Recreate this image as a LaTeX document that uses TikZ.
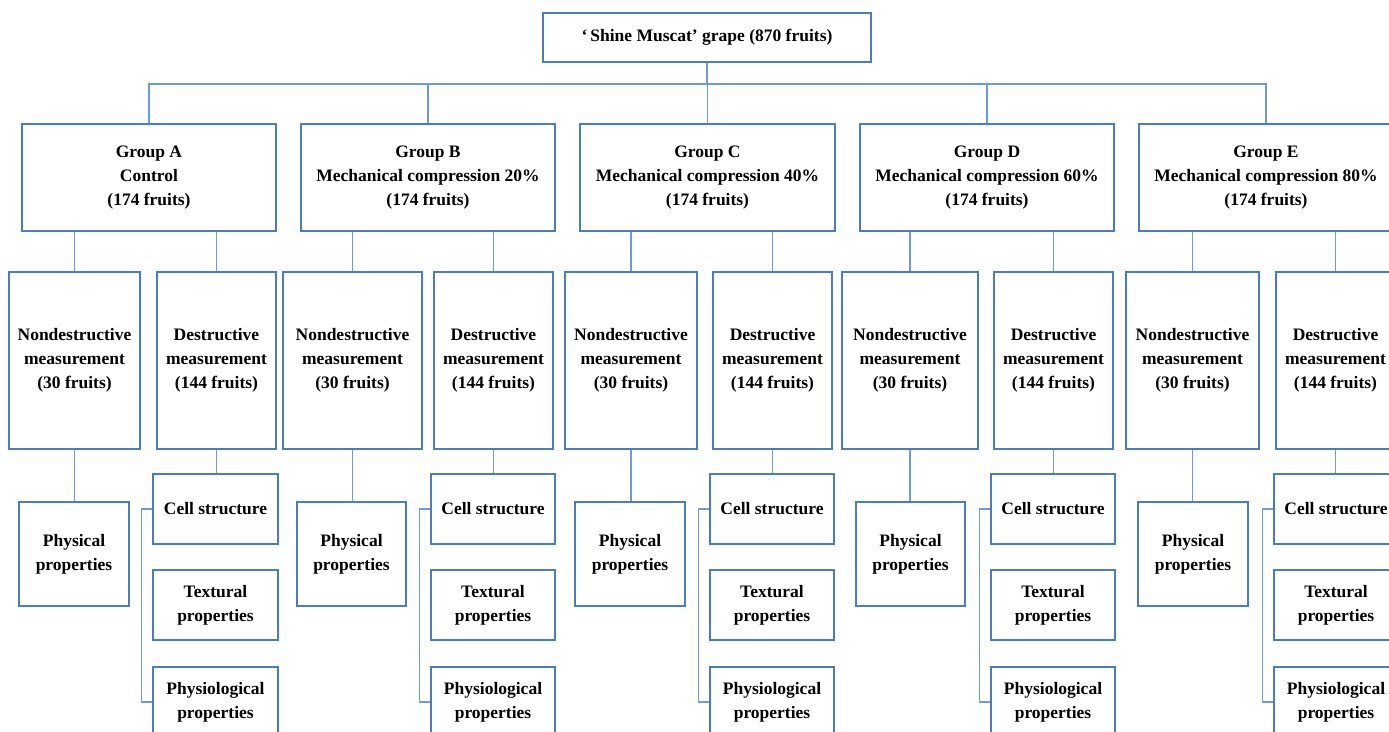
\documentclass[tikz,border=0pt]{standalone}
\usepackage{fontspec}
\setmainfont{Liberation Serif}
\definecolor{boxc}{HTML}{4A7EBB}
\definecolor{linec}{HTML}{6C9BD6}
\begin{document}
\begin{tikzpicture}[x=1pt,y=-1pt,
  box/.style={draw=boxc, line width=1.3pt, inner sep=0pt, align=center,
    font=\fontsize{17.5}{24}\selectfont\bfseries},
  conn/.style={draw=linec, line width=1.3pt}]
\clip (0,0) rectangle (1389,731);
\fill[white] (0,0) rectangle (1389,731);
% top node
\node[box, minimum width=328pt, minimum height=49pt] (top) at (707,37.5)
  {‘\,Shine Muscat’ grape (870 fruits)};
\coordinate (bus) at (707,84);
% groups
\foreach \id/\gla/\glb/\nda/\ndb/\dda/\ddb/\pha/\phb/\cea/\ceb/\txt in {
  A/22/276/9/140/157/276/19/129/153/278/{Group A\\Control\\(174 fruits)},
  B/301/555/283/422/434/553/297/406/431/555/{Group B\\Mechanical compression 20\%\\(174 fruits)},
  C/580/835/565/697/713/832/575/685/710/834/{Group C\\Mechanical compression 40\%\\(174 fruits)},
  D/860/1114/842/978/994/1113/856/965/991/1115/{Group D\\Mechanical compression 60\%\\(174 fruits)},
  E/1139/1393/1126/1259/1276/1395/1138/1248/1274/1398/{Group E\\Mechanical compression 80\%\\(174 fruits)}}
{
  \node[box, minimum width={(\glb-\gla)*1pt}, minimum height=107pt] (g\id) at ({(\gla+\glb)/2},177.5) {\txt};
  \node[box, minimum width={(\ndb-\nda)*1pt}, minimum height=177pt] (nd\id) at ({(\nda+\ndb)/2},360.5)
    {Nondestructive\\measurement\\(30 fruits)};
  \node[box, minimum width={(\ddb-\dda)*1pt}, minimum height=177pt] (d\id) at ({(\dda+\ddb)/2},360.5)
    {Destructive\\measurement\\(144 fruits)};
  \node[box, minimum width={(\phb-\pha)*1pt}, minimum height=104pt] (ph\id) at ({(\pha+\phb)/2},554)
    {Physical\\properties};
  \node[box, minimum width={(\ceb-\cea)*1pt}, minimum height=70pt] (c\id) at ({(\cea+\ceb)/2},509)
    {Cell structure};
  \node[box, minimum width={(\ceb-\cea)*1pt}, minimum height=70pt] (tx\id) at ({(\cea+\ceb)/2},605)
    {Textural\\properties};
  \node[box, minimum width={(\ceb-\cea)*1pt}, minimum height=70pt] (py\id) at ({(\cea+\ceb)/2},702)
    {Physiological\\properties};
  \draw[conn] (g\id.south -| nd\id.north) -- (nd\id.north);
  \draw[conn] (g\id.south -| d\id.north) -- (d\id.north);
  \draw[conn] (nd\id.south) -- (nd\id.south |- ph\id.north);
  \draw[conn] (d\id.south) -- (d\id.south |- c\id.north);
  \draw[conn] (c\id.west) -- ([xshift=-11pt]c\id.west) |- (py\id.west);
}
% top connectors
\draw[conn] (top.south) -- (bus);
\draw[conn] (gA.north) |- (bus) -| (gE.north);
\draw[conn] (gB.north) -- (gB.north |- bus);
\draw[conn] (gC.north) -- (gC.north |- bus);
\draw[conn] (gD.north) -- (gD.north |- bus);
\end{tikzpicture}
\end{document}
